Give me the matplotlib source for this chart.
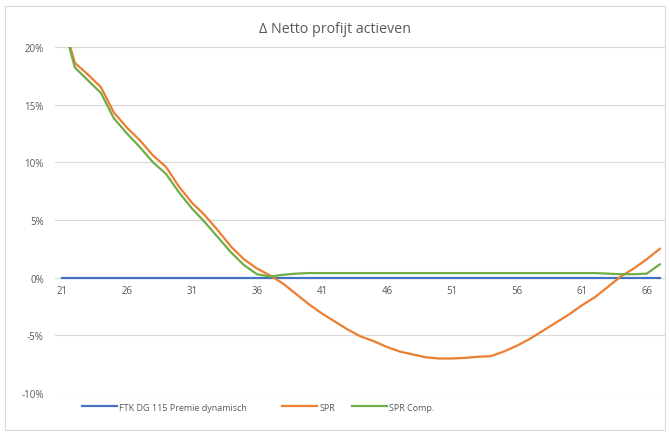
import matplotlib.pyplot as plt
from matplotlib.patches import Rectangle

# ages on the category axis
ages = list(range(21, 68))

# FTK DG 115 Premie dynamisch (reference, always 0)
ftk = [0.0] * len(ages)

# SPR (in %)
spr = [22.5, 18.6, 17.6, 16.5, 14.3, 13.0, 11.9, 10.6, 9.6, 7.9,
       6.5, 5.4, 4.1, 2.7, 1.6, 0.8, 0.2, -0.5, -1.4, -2.3,
       -3.1, -3.8, -4.5, -5.1, -5.5, -6.0, -6.4, -6.65, -6.9, -7.0,
       -7.0, -6.95, -6.85, -6.8, -6.4, -5.9, -5.3, -4.6, -3.9, -3.2,
       -2.4, -1.7, -0.8, 0.1, 0.8, 1.6, 2.5]

# SPR Comp. (in %)
spr_comp = [22.3, 18.2, 17.1, 16.0, 13.8, 12.5, 11.3, 10.0, 9.0, 7.4,
            6.0, 4.8, 3.5, 2.2, 1.1, 0.3, 0.1, 0.25, 0.35, 0.4,
            0.4, 0.4, 0.4, 0.4, 0.4, 0.4, 0.4, 0.4, 0.4, 0.4,
            0.4, 0.4, 0.4, 0.4, 0.4, 0.4, 0.4, 0.4, 0.4, 0.4,
            0.4, 0.4, 0.35, 0.3, 0.3, 0.35, 1.15]

xtick_ages = [21, 26, 31, 36, 41, 46, 51, 56, 61, 66]
yticks = [20, 15, 10, 5, 0, -5, -10]

plt.rcParams['font.family'] = ['Open Sans', 'DejaVu Sans']
grey = '#595959'

fig = plt.figure(figsize=(6.7, 4.35), dpi=100)
ax = fig.add_axes([0.082, 0.094, 0.9105, 0.796])

l1, = ax.plot(ages, ftk, color='#4472C4', lw=1.6, zorder=3)
l2, = ax.plot(ages, spr, color='#ED7D31', lw=1.6, zorder=3)
l3, = ax.plot(ages, spr_comp, color='#70AD47', lw=1.6, zorder=3)

# x axis crosses at 0
ax.spines['bottom'].set_position(('data', 0))
for s in ax.spines.values():
    s.set_visible(False)

ax.set_xlim(20.46, 67.4)
ax.set_ylim(-10, 20)
ax.set_yticks(yticks)
ax.set_yticklabels([f'{v}%' for v in yticks])
ax.set_xticks(xtick_ages)
ax.set_xticklabels([str(a) for a in xtick_ages])
ax.tick_params(length=0, labelsize=7, labelcolor=grey)
ax.tick_params(axis='x', pad=5)
ax.tick_params(axis='y', pad=8)
ax.grid(axis='y', color='#D9D9D9', lw=0.8)
ax.set_axisbelow(True)

fig.text(0.5, 0.933, '\u0394 Netto profijt actieven', ha='center', va='center',
         fontsize=10.3, color=grey)

# legend entries placed like the original
entries = [(l1, 'FTK DG 115 Premie dynamisch', 0.122),
           (l2, 'SPR', 0.421),
           (l3, 'SPR Comp.', 0.525)]
for h, lab, xpos in entries:
    fig.legend([h], [lab], loc='center left', bbox_to_anchor=(xpos, 0.062),
               frameon=False, fontsize=6.5, labelcolor=grey, handlelength=3.9,
               handletextpad=0.2, borderpad=0, borderaxespad=0)

fig.patches.append(Rectangle((0.008, 0.01), 0.985, 0.975, transform=fig.transFigure,
                             fill=False, edgecolor='#D9D9D9', lw=0.8))

fig.savefig('out.png', dpi=100)
